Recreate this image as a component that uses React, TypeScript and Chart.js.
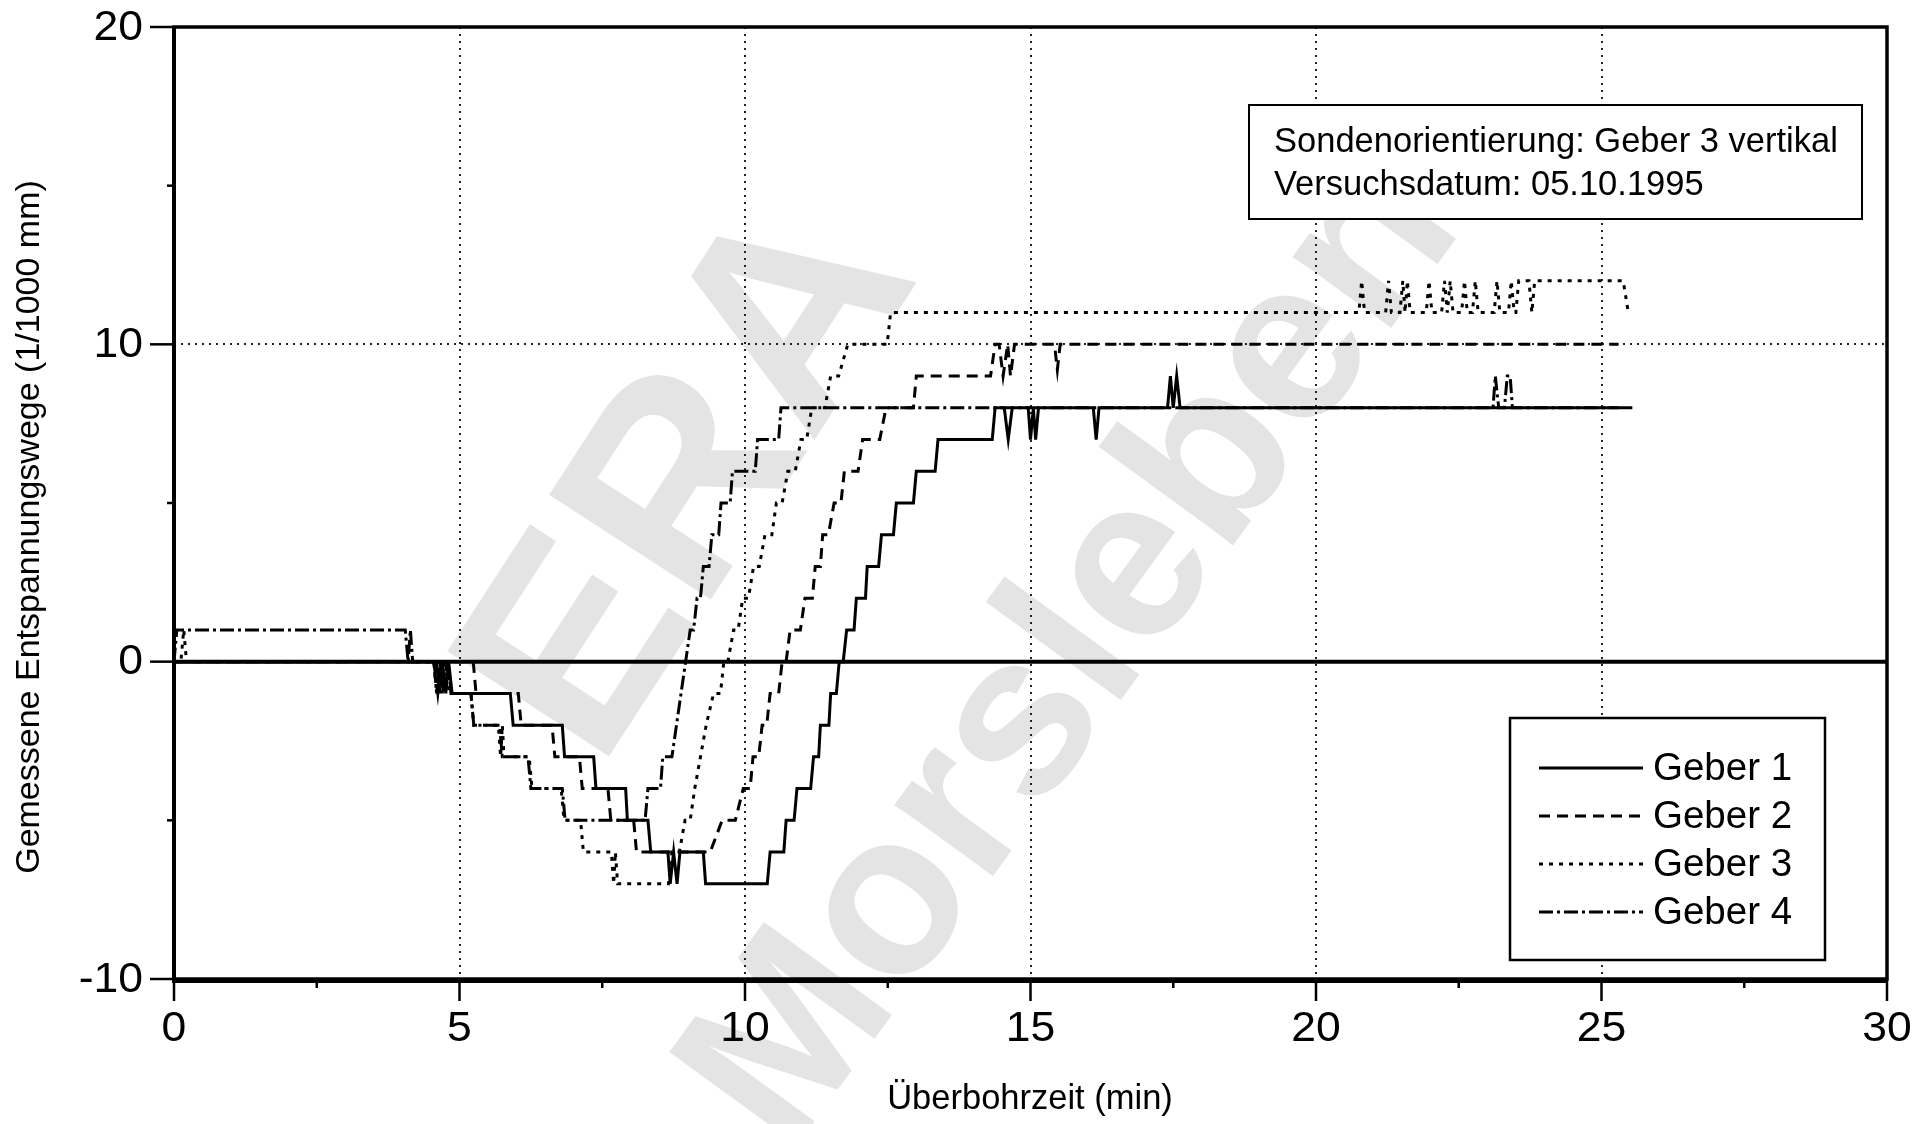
import { useEffect, useRef } from "react";
import { Chart, registerables } from "chart.js";

Chart.register(...registerables);

// ---- data (time in min, value in 1/1000 mm) ----
const geber1Points: [number, number][] = [
  [0, 0], [4.6, 0], [4.65, -1], [4.7, 0], [4.76, -1], [4.81, 0], [4.87, -1],
  [5.89, -1], [5.94, -2], [6.8, -2], [6.84, -3], [7.35, -3], [7.39, -4], [7.91, -4],
  [7.94, -5], [8.3, -5], [8.35, -6], [8.65, -6], [8.69, -7], [8.75, -6], [8.81, -7],
  [8.86, -6], [9.27, -6], [9.31, -7], [10.39, -7], [10.44, -6], [10.68, -6], [10.72, -5],
  [10.86, -5], [10.91, -4], [11.15, -4], [11.2, -3], [11.29, -3], [11.32, -2], [11.47, -2],
  [11.5, -1], [11.6, -1], [11.65, 0], [11.72, 0], [11.78, 1], [11.91, 1], [11.95, 2],
  [12.11, 2], [12.14, 3], [12.34, 3], [12.39, 4], [12.6, 4], [12.65, 5], [12.95, 5],
  [13.0, 6], [13.33, 6], [13.38, 7], [14.33, 7], [14.38, 8], [14.54, 8], [14.61, 7],
  [14.68, 8], [14.96, 8], [15.0, 7], [15.05, 8], [15.09, 7], [15.14, 8], [16.1, 8],
  [16.15, 7], [16.2, 8], [17.4, 8], [17.45, 9], [17.5, 8], [17.56, 9], [17.62, 8], [25.54, 8],
];

const geber2Points: [number, number][] = [
  [0, 0], [4.55, 0], [4.6, -1], [4.66, 0], [4.72, -1], [4.78, 0], [5.24, 0], [5.29, -1],
  [6.03, -1], [6.08, -2], [6.62, -2], [6.67, -3], [7.1, -3], [7.15, -4], [7.6, -4],
  [7.65, -5], [8.05, -5], [8.1, -6], [9.39, -6], [9.6, -5], [9.83, -5], [9.97, -4],
  [10.09, -4], [10.14, -3], [10.24, -3], [10.3, -2], [10.38, -2], [10.44, -1], [10.59, -1],
  [10.65, 0], [10.72, 0], [10.79, 1], [10.97, 1], [11.05, 2], [11.18, 2], [11.23, 3],
  [11.32, 3], [11.36, 4], [11.46, 4], [11.56, 5], [11.68, 5], [11.74, 6], [11.98, 6],
  [12.06, 7], [12.36, 7], [12.47, 8], [12.95, 8], [13.0, 9], [14.3, 9], [14.38, 10],
  [14.45, 10], [14.52, 9], [14.6, 10], [14.65, 9], [14.72, 10], [15.42, 10], [15.47, 9.2],
  [15.52, 10], [25.3, 10],
];

const geber3Points: [number, number][] = [
  [0, 0], [0.12, 0], [0.17, 1], [0.22, 0], [4.55, 0], [4.6, -1], [4.65, 0], [4.7, -1],
  [4.76, 0], [4.82, -1], [5.2, -1], [5.25, -2], [5.68, -2], [5.72, -3], [5.75, -2],
  [5.78, -3], [6.22, -3], [6.27, -4], [6.78, -4], [6.83, -5], [7.12, -5], [7.17, -6],
  [7.66, -6], [7.7, -7], [7.73, -6], [7.77, -7], [8.66, -7], [8.72, -6], [8.85, -6],
  [8.95, -5], [9.04, -5], [9.12, -4], [9.22, -3], [9.32, -2], [9.45, -1], [9.57, -1],
  [9.63, 0], [9.7, 0], [9.8, 1], [9.88, 1], [9.96, 2], [10.06, 2], [10.15, 3], [10.25, 3],
  [10.35, 4], [10.47, 4], [10.55, 5], [10.65, 5], [10.75, 6], [10.88, 6], [10.98, 7],
  [11.08, 7], [11.17, 8], [11.4, 8], [11.5, 9], [11.64, 9], [11.8, 10], [12.49, 10],
  [12.55, 11], [20.75, 11], [20.8, 12], [20.85, 11], [21.22, 11], [21.27, 12], [21.32, 11],
  [21.47, 11], [21.52, 12], [21.56, 11], [21.6, 12], [21.65, 11], [21.93, 11], [21.98, 12],
  [22.03, 11], [22.2, 11], [22.25, 12], [22.3, 11], [22.35, 12], [22.4, 11], [22.55, 11],
  [22.6, 12], [22.65, 11], [22.74, 11], [22.79, 12], [22.84, 11], [23.12, 11], [23.17, 12],
  [23.22, 11], [23.37, 11], [23.42, 12], [23.47, 11], [23.5, 11], [23.55, 12], [23.73, 12],
  [23.78, 11], [23.83, 12], [25.38, 12], [25.47, 11],
];

const geber4Points: [number, number][] = [
  [0, 0], [0.05, 1], [4.05, 1], [4.1, 0], [4.14, 1], [4.18, 0], [4.55, 0], [4.62, -1],
  [4.68, 0], [4.74, -1], [4.8, 0], [4.85, -1], [5.2, -1], [5.25, -2], [5.7, -2], [5.75, -3],
  [6.2, -3], [6.25, -4], [6.8, -4], [6.85, -5], [8.25, -5], [8.3, -4], [8.52, -4],
  [8.56, -3], [8.72, -3], [8.8, -2], [8.88, -1], [8.96, 0], [9.04, 1], [9.1, 1], [9.16, 2],
  [9.22, 2], [9.27, 3], [9.37, 3], [9.42, 4], [9.54, 4], [9.58, 5], [9.74, 5], [9.78, 6],
  [10.18, 6], [10.22, 7], [10.59, 7], [10.63, 8], [23.1, 8], [23.14, 9], [23.2, 8],
  [23.3, 8], [23.35, 9], [23.4, 9], [23.44, 8], [25.3, 8],
];

const seriesNames = ["Geber 1", "Geber 2", "Geber 3", "Geber 4"];
const seriesDashes: number[][] = [[], [11, 7], [4, 6], [14, 4, 3, 4]];

const xTickValues = [0, 5, 10, 15, 20, 25, 30];
const xTickLabels = ["0", "5", "10", "15", "20", "25", "30"];
const xMinorTicks = [2.5, 7.5, 12.5, 17.5, 22.5, 27.5];
const yTickValues = [-10, 0, 10, 20];
const yTickLabels = ["-10", "0", "10", "20"];
const yMinorTicks = [-5, 5, 15];
const xGridValues = [5, 10, 15, 20, 25];
const yGridValues = [10];

const xTitle = "Überbohrzeit (min)";
const yTitle = "Gemessene Entspannungswege (1/1000 mm)";
const infoLines = ["Sondenorientierung: Geber 3 vertikal", "Versuchsdatum: 05.10.1995"];
const watermarkLines = ["ERA", "Morsleben"];

const W = 1930;
const H = 1124;
const FONT = '"Liberation Sans", Arial, Helvetica, sans-serif';

const overlayPlugin = {
  id: "overlay",
  beforeDraw(chart: any) {
    const ctx = chart.ctx as CanvasRenderingContext2D;
    ctx.save();
    ctx.fillStyle = "#ffffff";
    ctx.fillRect(0, 0, chart.width, chart.height);
    // watermark
    ctx.fillStyle = "#e4e4e4";
    ctx.textAlign = "center";
    ctx.textBaseline = "middle";
    ctx.save();
    ctx.translate(695, 482);
    ctx.rotate((-57 * Math.PI) / 180);
    ctx.font = `bold 280px ${FONT}`;
    ctx.fillText(watermarkLines[0], 0, 0);
    ctx.restore();
    ctx.save();
    ctx.translate(1075, 655);
    ctx.rotate((-54 * Math.PI) / 180);
    ctx.font = `bold 230px ${FONT}`;
    ctx.fillText(watermarkLines[1], 0, 0);
    ctx.restore();
    ctx.restore();
  },
  beforeDatasetsDraw(chart: any) {
    const ctx = chart.ctx as CanvasRenderingContext2D;
    const { left, right, top, bottom } = chart.chartArea;
    const xs = chart.scales.x;
    const ys = chart.scales.y;
    ctx.save();
    ctx.strokeStyle = "#222";
    ctx.lineWidth = 2;
    ctx.setLineDash([2, 5]);
    for (const v of xGridValues) {
      const x = Math.round(xs.getPixelForValue(v));
      ctx.beginPath();
      ctx.moveTo(x, top);
      ctx.lineTo(x, bottom);
      ctx.stroke();
    }
    for (const v of yGridValues) {
      const y = Math.round(ys.getPixelForValue(v));
      ctx.beginPath();
      ctx.moveTo(left, y);
      ctx.lineTo(right, y);
      ctx.stroke();
    }
    ctx.setLineDash([]);
    const y0 = ys.getPixelForValue(0);
    ctx.strokeStyle = "#000";
    ctx.lineWidth = 4;
    ctx.beginPath();
    ctx.moveTo(left, y0);
    ctx.lineTo(right, y0);
    ctx.stroke();
    ctx.restore();
  },
  afterDatasetsDraw(chart: any) {
    const ctx = chart.ctx as CanvasRenderingContext2D;
    const { left, right, top, bottom } = chart.chartArea;
    const xs = chart.scales.x;
    const ys = chart.scales.y;
    ctx.save();
    ctx.strokeStyle = "#000";
    ctx.setLineDash([]);
    // frame
    ctx.lineWidth = 3.5;
    ctx.strokeRect(left, top, right - left, bottom - top);
    ctx.lineWidth = 4;
    ctx.beginPath();
    ctx.moveTo(left, top);
    ctx.lineTo(left, bottom + 2);
    ctx.lineTo(right, bottom + 2);
    ctx.stroke();
    // ticks
    ctx.lineWidth = 2.5;
    for (const v of yTickValues) {
      const y = ys.getPixelForValue(v);
      ctx.beginPath();
      ctx.moveTo(left - 24, y);
      ctx.lineTo(left, y);
      ctx.stroke();
    }
    for (const v of yMinorTicks) {
      const y = ys.getPixelForValue(v);
      ctx.beginPath();
      ctx.moveTo(left - 7, y);
      ctx.lineTo(left, y);
      ctx.stroke();
    }
    for (const v of xTickValues) {
      const x = xs.getPixelForValue(v);
      ctx.beginPath();
      ctx.moveTo(x, bottom);
      ctx.lineTo(x, bottom + 22);
      ctx.stroke();
    }
    for (const v of xMinorTicks) {
      const x = xs.getPixelForValue(v);
      ctx.beginPath();
      ctx.moveTo(x, bottom);
      ctx.lineTo(x, bottom + 9);
      ctx.stroke();
    }
    // tick labels
    ctx.fillStyle = "#000";
    ctx.font = `42px ${FONT}`;
    ctx.textBaseline = "middle";
    ctx.textAlign = "right";
    yTickValues.forEach((v, i) => {
      const y = ys.getPixelForValue(v);
      ctx.save();
      ctx.translate(143, y + 1);
      ctx.scale(1.06, 1);
      ctx.fillText(yTickLabels[i], 0, 0);
      ctx.restore();
    });
    ctx.textAlign = "center";
    xTickValues.forEach((v, i) => {
      const x = xs.getPixelForValue(v);
      ctx.save();
      ctx.translate(x, 1029);
      ctx.scale(1.06, 1);
      ctx.fillText(xTickLabels[i], 0, 0);
      ctx.restore();
    });
    // axis titles
    ctx.font = `34.5px ${FONT}`;
    ctx.textAlign = "center";
    ctx.textBaseline = "middle";
    ctx.fillText(xTitle, 1030, 1099);
    ctx.save();
    ctx.translate(30, 527);
    ctx.rotate(-Math.PI / 2);
    ctx.font = `34px ${FONT}`;
    ctx.fillText(yTitle, 0, 0);
    ctx.restore();

    // info box
    ctx.lineWidth = 2;
    ctx.fillStyle = "#fff";
    ctx.fillRect(1249, 105, 613, 114);
    ctx.strokeRect(1249, 105, 613, 114);
    ctx.fillStyle = "#000";
    ctx.font = `34.5px ${FONT}`;
    ctx.textAlign = "left";
    ctx.fillText(infoLines[0], 1274, 142);
    ctx.fillText(infoLines[1], 1274, 185);

    // legend box
    ctx.fillStyle = "#fff";
    ctx.fillRect(1510, 718, 315, 242);
    ctx.lineWidth = 2.5;
    ctx.strokeRect(1510, 718, 315, 242);
    ctx.font = `38.5px ${FONT}`;
    ctx.fillStyle = "#000";
    const rowY = [768, 816, 864, 912];
    seriesNames.forEach((name, i) => {
      const y = rowY[i];
      ctx.lineWidth = 3;
      ctx.setLineDash(seriesDashes[i]);
      ctx.beginPath();
      ctx.moveTo(1539, y);
      ctx.lineTo(1643, y);
      ctx.stroke();
      ctx.setLineDash([]);
      ctx.fillText(name, 1653, y + 1);
    });
    ctx.restore();
  },
};

const toXY = (pts: [number, number][]) => pts.map(([x, y]) => ({ x, y }));

export default function App() {
  const ref = useRef<HTMLCanvasElement | null>(null);
  useEffect(() => {
    const canvas = ref.current;
    if (!canvas) return;
    const allPoints = [geber1Points, geber2Points, geber3Points, geber4Points];
    const chart = new Chart(canvas, {
      type: "line",
      data: {
        datasets: allPoints.map((pts, i) => ({
          label: seriesNames[i],
          data: toXY(pts),
          borderColor: "#000",
          backgroundColor: "#000",
          borderWidth: 3,
          borderDash: seriesDashes[i],
          pointRadius: 0,
          fill: false,
          tension: 0,
        })),
      },
      options: {
        responsive: false,
        animation: false,
        devicePixelRatio: 1,
        layout: { padding: { top: 27, right: 43, left: 174, bottom: 145 } },
        plugins: { legend: { display: false }, tooltip: { enabled: false }, title: { display: false } },
        scales: {
          x: { type: "linear", min: 0, max: 30, display: false },
          y: { type: "linear", min: -10, max: 20, display: false },
        },
      },
      plugins: [overlayPlugin],
    });
    return () => chart.destroy();
  }, []);
  return (
    <div style={{ position: "fixed", left: 0, top: 0, width: W, height: H, background: "#fff" }}>
      <canvas ref={ref} width={W} height={H} style={{ width: W, height: H, display: "block" }} />
    </div>
  );
}
